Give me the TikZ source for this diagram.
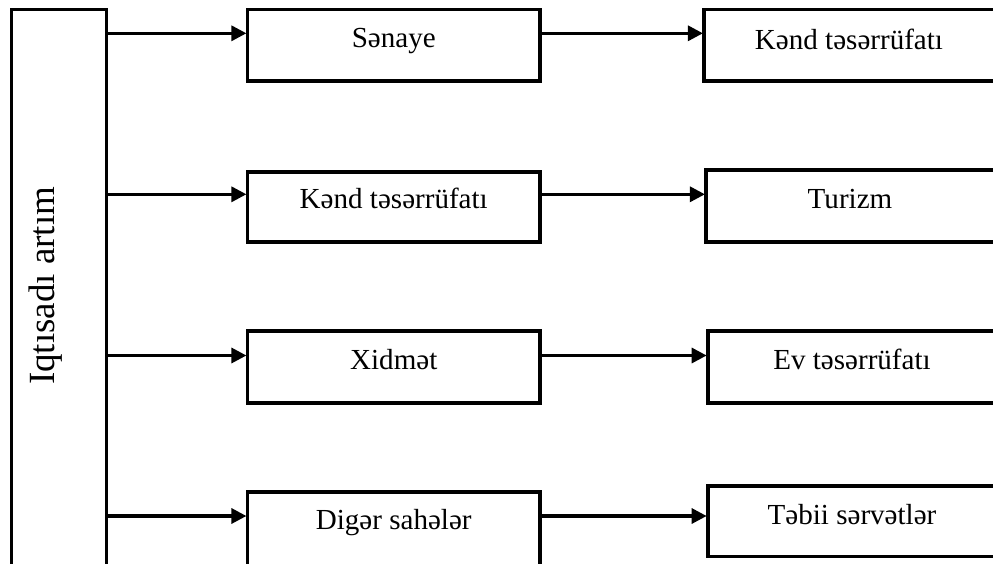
\documentclass[tikz,border=0pt]{standalone}
\usepackage{fontspec}
\setmainfont{Liberation Serif}
\usetikzlibrary{arrows.meta}
\begin{document}
\begin{tikzpicture}[x=0.75pt,y=-0.75pt,
  frame/.style={draw=black,line width=2.7pt,fill=white,inner sep=0pt,outer sep=0pt},
  boxtext/.style={font=\fontsize{21.8}{26}\selectfont,anchor=base,inner sep=0pt},
  feed/.style={line width=2.4pt,shorten >=0.8pt,-{Triangle[length=11.25pt,width=11.25pt]}}
]
\clip (0,0) rectangle (993,564);
\fill[white] (0,0) rectangle (993,564);

% tall box on the left
\node[frame,minimum width=71.25pt,minimum height=420.4pt] (L) at (59,289.75) {};
\node[rotate=90,anchor=base,inner sep=0pt,font=\fontsize{27.7}{32}\selectfont] (Ltext) at (55,286) {Iqtısadı artım};

% middle column
\node[frame,minimum width=219.4pt,minimum height=53.6pt] (M1) at (393.75,45.25) {};
\node[frame,minimum width=219.4pt,minimum height=52.5pt] (M2) at (393.75,206.7) {};
\node[frame,minimum width=219.4pt,minimum height=54.2pt] (M3) at (393.75,366.85) {};
\node[frame,minimum width=219.4pt,minimum height=58.7pt] (M4) at (393.75,530.85) {};

% right column (runs past the right edge)
\node[frame,minimum width=222pt,minimum height=53.6pt] (R1) at (852,45.25) {};
\node[frame,minimum width=220.5pt,minimum height=54.2pt] (R2) at (853,206.15) {};
\node[frame,minimum width=219.2pt,minimum height=54.2pt] (R3) at (853.85,366.85) {};
\node[frame,minimum width=219.2pt,minimum height=53pt] (R4) at (853.85,521.35) {};

% labels
\node[boxtext] (tM1) at (393.75,47.5) {Sənaye};
\node[boxtext] (tM2) at (393.75,208.5) {Kənd təsərrüfatı};
\node[boxtext] (tM3) at (393.75,369) {Xidmət};
\node[boxtext] (tM4) at (393.75,529.5) {Digər sahələr};
\node[boxtext] (tR1) at (849,49.3) {Kənd təsərrüfatı};
\node[boxtext] (tR2) at (850,208.5) {Turizm};
\node[boxtext] (tR3) at (852,369) {Ev təsərrüfatı};
\node[boxtext] (tR4) at (852,524) {Təbii sərvətlər};

% arrow rows
\coordinate (y1) at (0,33.3);
\coordinate (y2) at (0,194.3);
\coordinate (y3) at (0,355.5);
\coordinate (y4) at (0,516);

\draw[feed] (L.east |- y1) -- (M1.west |- y1);
\draw[feed] (L.east |- y2) -- (M2.west |- y2);
\draw[feed] (L.east |- y3) -- (M3.west |- y3);
\draw[feed] (L.east |- y4) -- (M4.west |- y4);

\draw[feed] (M1.east |- y1) -- (R1.west |- y1);
\draw[feed] (M2.east |- y2) -- (R2.west |- y2);
\draw[feed] (M3.east |- y3) -- (R3.west |- y3);
\draw[feed] (M4.east |- y4) -- (R4.west |- y4);
\end{tikzpicture}
\end{document}
